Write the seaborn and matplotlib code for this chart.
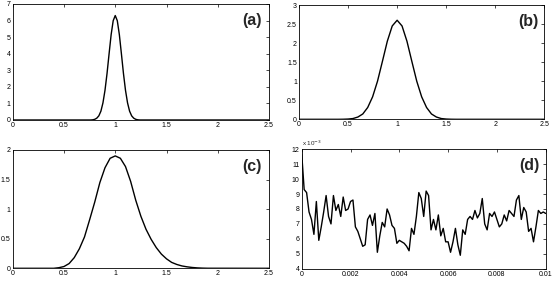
import numpy as np
import pandas as pd
import matplotlib
matplotlib.use('Agg')
import matplotlib.pyplot as plt
import seaborn as sns

# Panel (a): narrow peak at 1
xa = [0.0, 0.76, 0.78, 0.80, 0.82, 0.84, 0.86, 0.88, 0.90, 0.92, 0.94, 0.96, 0.98, 1.00,
      1.02, 1.04, 1.06, 1.08, 1.10, 1.12, 1.14, 1.16, 1.18, 1.20, 1.22, 1.24, 2.5]
ya = [0.0, 0.0, 0.01, 0.04, 0.11, 0.25, 0.53, 1.03, 1.79, 2.81, 4.00, 5.15, 5.99, 6.30,
      5.99, 5.15, 4.00, 2.81, 1.79, 1.03, 0.53, 0.25, 0.11, 0.04, 0.01, 0.0, 0.0]

# Panel (b)
xb = [0.0, 0.40, 0.45, 0.50, 0.55, 0.60, 0.65, 0.70, 0.75, 0.80, 0.85, 0.90, 0.95, 1.00,
      1.05, 1.10, 1.15, 1.20, 1.25, 1.30, 1.35, 1.40, 1.45, 1.50, 1.55, 1.60, 2.5]
yb = [0.0, 0.0, 0.002, 0.007, 0.02, 0.06, 0.14, 0.31, 0.59, 1.00, 1.52, 2.05, 2.45, 2.60,
      2.45, 2.05, 1.52, 1.00, 0.59, 0.31, 0.14, 0.06, 0.02, 0.007, 0.002, 0.0, 0.0]

# Panel (c): wider, slightly longer right tail
xc = [0.0, 0.40, 0.45, 0.50, 0.55, 0.60, 0.65, 0.70, 0.75, 0.80, 0.85, 0.90, 0.95, 1.00,
      1.05, 1.10, 1.15, 1.20, 1.25, 1.30, 1.35, 1.40, 1.45, 1.50, 1.55, 1.60, 1.65, 1.70,
      1.75, 1.80, 1.85, 1.90, 2.5]
yc = [0.0, 0.0, 0.01, 0.03, 0.08, 0.18, 0.33, 0.53, 0.82, 1.12, 1.45, 1.70, 1.86, 1.90,
      1.86, 1.72, 1.47, 1.15, 0.88, 0.66, 0.49, 0.35, 0.24, 0.16, 0.10, 0.065, 0.04, 0.025,
      0.014, 0.007, 0.003, 0.001, 0.0]

# Panel (d): values in units of 1e-3, sampled every 1e-4
yd = [11.7, 9.3, 9.1, 7.8, 7.3, 6.3, 8.5, 5.9, 6.8, 7.8,
      8.9, 7.5, 7.0, 8.9, 7.9, 8.3, 7.5, 8.8, 7.9, 8.0,
      8.5, 8.6, 6.8, 6.5, 6.0, 5.5, 5.6, 7.3, 7.6, 6.9,
      7.7, 5.1, 6.2, 7.1, 6.8, 8.0, 7.6, 6.9, 6.7, 5.7,
      5.9, 5.8, 5.7, 5.5, 5.2, 6.7, 6.3, 7.5, 9.1, 8.7,
      7.5, 9.2, 8.9, 6.6, 7.3, 6.6, 7.6, 6.2, 6.7, 5.8,
      5.8, 5.1, 5.8, 6.7, 5.6, 4.9, 6.6, 6.3, 7.3, 7.5,
      7.3, 7.9, 7.4, 7.7, 8.7, 7.0, 6.6, 7.7, 7.5, 7.8,
      7.3, 6.8, 7.0, 7.6, 7.2, 7.9, 7.7, 7.5, 8.6, 8.9,
      7.3, 8.1, 7.8, 6.5, 6.7, 5.8, 6.8, 7.9, 7.7, 7.8,
      7.7]
xd = np.arange(len(yd)) * 1e-4

sns.set_theme(style='white')
plt.rcParams['font.family'] = ['Liberation Sans', 'DejaVu Sans']
plt.rcParams['xtick.direction'] = 'in'
plt.rcParams['ytick.direction'] = 'in'
plt.rcParams['xtick.top'] = True
plt.rcParams['ytick.right'] = True

fig = plt.figure(figsize=(5.53, 2.81), dpi=100)
axa = fig.add_axes([0.023, 0.573, 0.4635, 0.413])
axb = fig.add_axes([0.5407, 0.5754, 0.4436, 0.4068])
axc = fig.add_axes([0.023, 0.0452, 0.4635, 0.421])
axd = fig.add_axes([0.5456, 0.0438, 0.4412, 0.425])

panels = [
    (axa, xa, ya, '(a)', 7, np.arange(0, 8, 1)),
    (axb, xb, yb, '(b)', 3, np.arange(0, 3.01, 0.5)),
    (axc, xc, yc, '(c)', 2, np.arange(0, 2.01, 0.5)),
]
for ax, x, y, lab, ymax, yt in panels:
    df = pd.DataFrame({'x': x, 'y': y})
    sns.lineplot(data=df, x='x', y='y', ax=ax, color='black', linewidth=1.0,
                 estimator=None, sort=False)
    ax.set_xlim(0, 2.5)
    ax.set_ylim(0, ymax)
    ax.set_xticks([0, 0.5, 1, 1.5, 2, 2.5])
    ax.set_xticklabels(['0', '0.5', '1', '1.5', '2', '2.5'])
    ax.set_yticks(yt)
    ax.set_yticklabels(['%g' % v for v in yt])
    ax.text(0.935, 0.86, lab, transform=ax.transAxes, ha='center', va='center',
            fontsize=11.5, fontweight='bold')

dfd = pd.DataFrame({'x': xd, 'y': yd})
sns.lineplot(data=dfd, x='x', y='y', ax=axd, color='black', linewidth=1.0,
             estimator=None, sort=False)
axd.set_xlim(0, 0.01)
axd.set_ylim(4, 12)
axd.set_xticks([0, 0.002, 0.004, 0.006, 0.008, 0.01])
axd.set_xticklabels(['0', '0.002', '0.004', '0.006', '0.008', '0.01'])
axd.set_yticks(np.arange(4, 13))
axd.set_yticklabels([str(v) for v in range(4, 13)])
axd.text(0.0, 1.01, 'x 10$^{-3}$', transform=axd.transAxes, ha='left', va='bottom',
         fontsize=4.5)
axd.text(0.935, 0.86, '(d)', transform=axd.transAxes, ha='center', va='center',
         fontsize=11.5, fontweight='bold')

for ax in [axa, axb, axc, axd]:
    ax.set_xlabel('')
    ax.set_ylabel('')
    ax.tick_params(labelsize=5, length=2, width=0.5, pad=1.5, colors='black')
    for s in ax.spines.values():
        s.set_color('black')
        s.set_linewidth(0.6)

fig.savefig('out.png', dpi=100)
